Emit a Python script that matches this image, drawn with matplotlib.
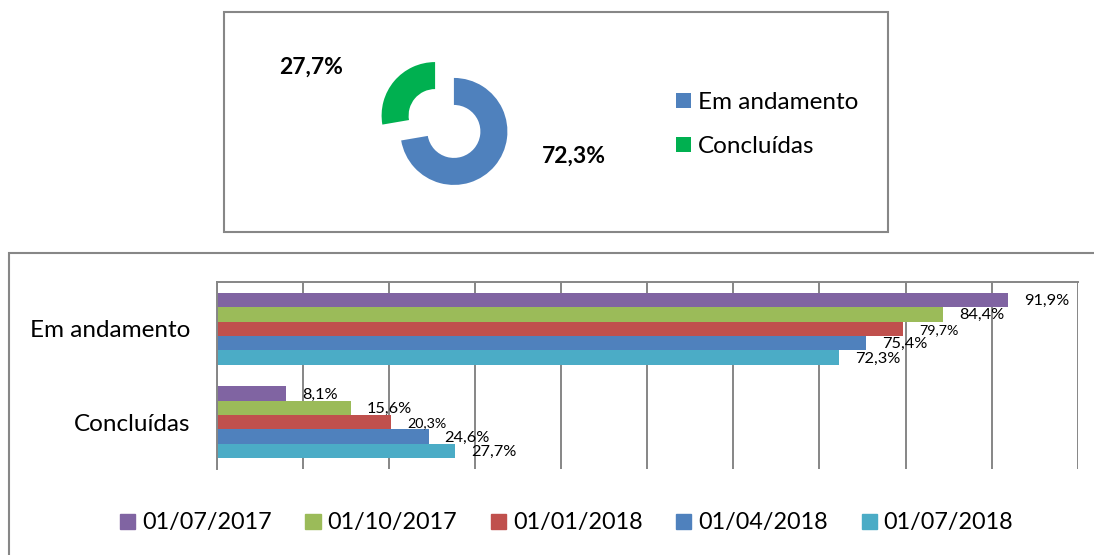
import matplotlib.pyplot as plt
from matplotlib.patches import Rectangle, Patch
import numpy as np

plt.rcParams['font.family'] = ['Lato', 'DejaVu Sans']

# data
status = ["Em andamento", "Concluídas"]
donut_values = [72.3, 27.7]
donut_colors = ["#4F81BD", "#00B050"]

dates = ["01/07/2017", "01/10/2017", "01/01/2018", "01/04/2018", "01/07/2018"]
em_andamento = [91.9, 84.4, 79.7, 75.4, 72.3]
concluidas = [8.1, 15.6, 20.3, 24.6, 27.7]
date_colors = ["#8064A2", "#9BBB59", "#C0504D", "#4F81BD", "#4BACC6"]

W, H = 1094, 555
fig = plt.figure(figsize=(W / 100, H / 100), dpi=100)


def fx(px):
    return px / W


def fy(py):
    return 1 - py / H


box_col = "#878787"
# frame around the donut
fig.patches.append(Rectangle((fx(224), fy(232)), fx(888 - 224), (232 - 12) / H,
                             transform=fig.transFigure, fill=False,
                             ec=box_col, lw=1.5))
# frame around the bar chart (runs off the right and bottom edges)
fig.patches.append(Rectangle((fx(9), fy(600)), fx(1200), (600 - 253) / H,
                             transform=fig.transFigure, fill=False,
                             ec=box_col, lw=1.5))

# ---- donut ----
r_px = 53.5
cx, cy = 444.5, 123.5
ax1 = fig.add_axes([fx(cx - 100), fy(cy + 100), fx(200), 200 / H])
wedges, _ = ax1.pie(donut_values, colors=donut_colors, startangle=90,
                    counterclock=False, explode=[0.23, 0.23],
                    wedgeprops=dict(width=0.505, linewidth=0))
lim = 100 / r_px
ax1.set_xlim(-lim, lim)
ax1.set_ylim(-lim, lim)
ax1.axis('off')
ax1.text(2.42, -0.607, "72,3%", fontsize=16.5, fontweight='bold',
         ha='center', va='center')
ax1.text(-2.495, 1.056, "27,7%", fontsize=16.5, fontweight='bold',
         ha='center', va='center')

fig.legend(wedges, status, loc='center left',
           bbox_to_anchor=(fx(676), fy(124.5)), frameon=False,
           fontsize=17.5, borderpad=0, borderaxespad=0,
           handlelength=0.62, handleheight=0.62, handletextpad=0.3,
           labelspacing=0.95)

# ---- bars ----
x0, x1 = 216.7, 1077.7
top, bot = 282, 469
ax2 = fig.add_axes([fx(x0), fy(bot), fx(x1 - x0), (bot - top) / H])

h = 0.1536
y = np.arange(len(status))
for i, d in enumerate(dates):
    vals = [em_andamento[i], concluidas[i]]
    yy = y + (i - 2) * h
    ax2.barh(yy, vals, height=h, color=date_colors[i], label=d)
    fs = 10.3 if i == 2 else 11.8
    for v, yv in zip(vals, yy):
        ax2.annotate(f"{v:.1f}".replace('.', ',') + "%", xy=(v, yv),
                     xytext=(11.5, -0.7), textcoords='offset points',
                     ha='left', va='center', fontsize=fs)

ax2.set_xlim(0, 100)
ax2.set_ylim(1.5, -0.5)
ax2.set_xticks(np.arange(0, 101, 10))
ax2.set_xticklabels([])
ax2.tick_params(axis='x', length=0)
ax2.set_yticks(y)
ax2.set_yticklabels(status, fontsize=17.5)
ax2.tick_params(axis='y', length=0, pad=19)
ax2.grid(axis='x', color="#868686", lw=1.4)
ax2.set_axisbelow(True)
for s in ['right', 'bottom']:
    ax2.spines[s].set_visible(False)
for s in ['top', 'left']:
    ax2.spines[s].set_color("#868686")
    ax2.spines[s].set_linewidth(1.4)

handles = [Patch(color=c) for c in date_colors]
fig.legend(handles, dates, loc='center left', ncol=5,
           bbox_to_anchor=(fx(120), fy(523)), frameon=False,
           fontsize=16.8, borderpad=0, borderaxespad=0,
           handlelength=0.65, handleheight=0.65, handletextpad=0.3,
           columnspacing=1.44)

plt.savefig("out.png", dpi=100)
